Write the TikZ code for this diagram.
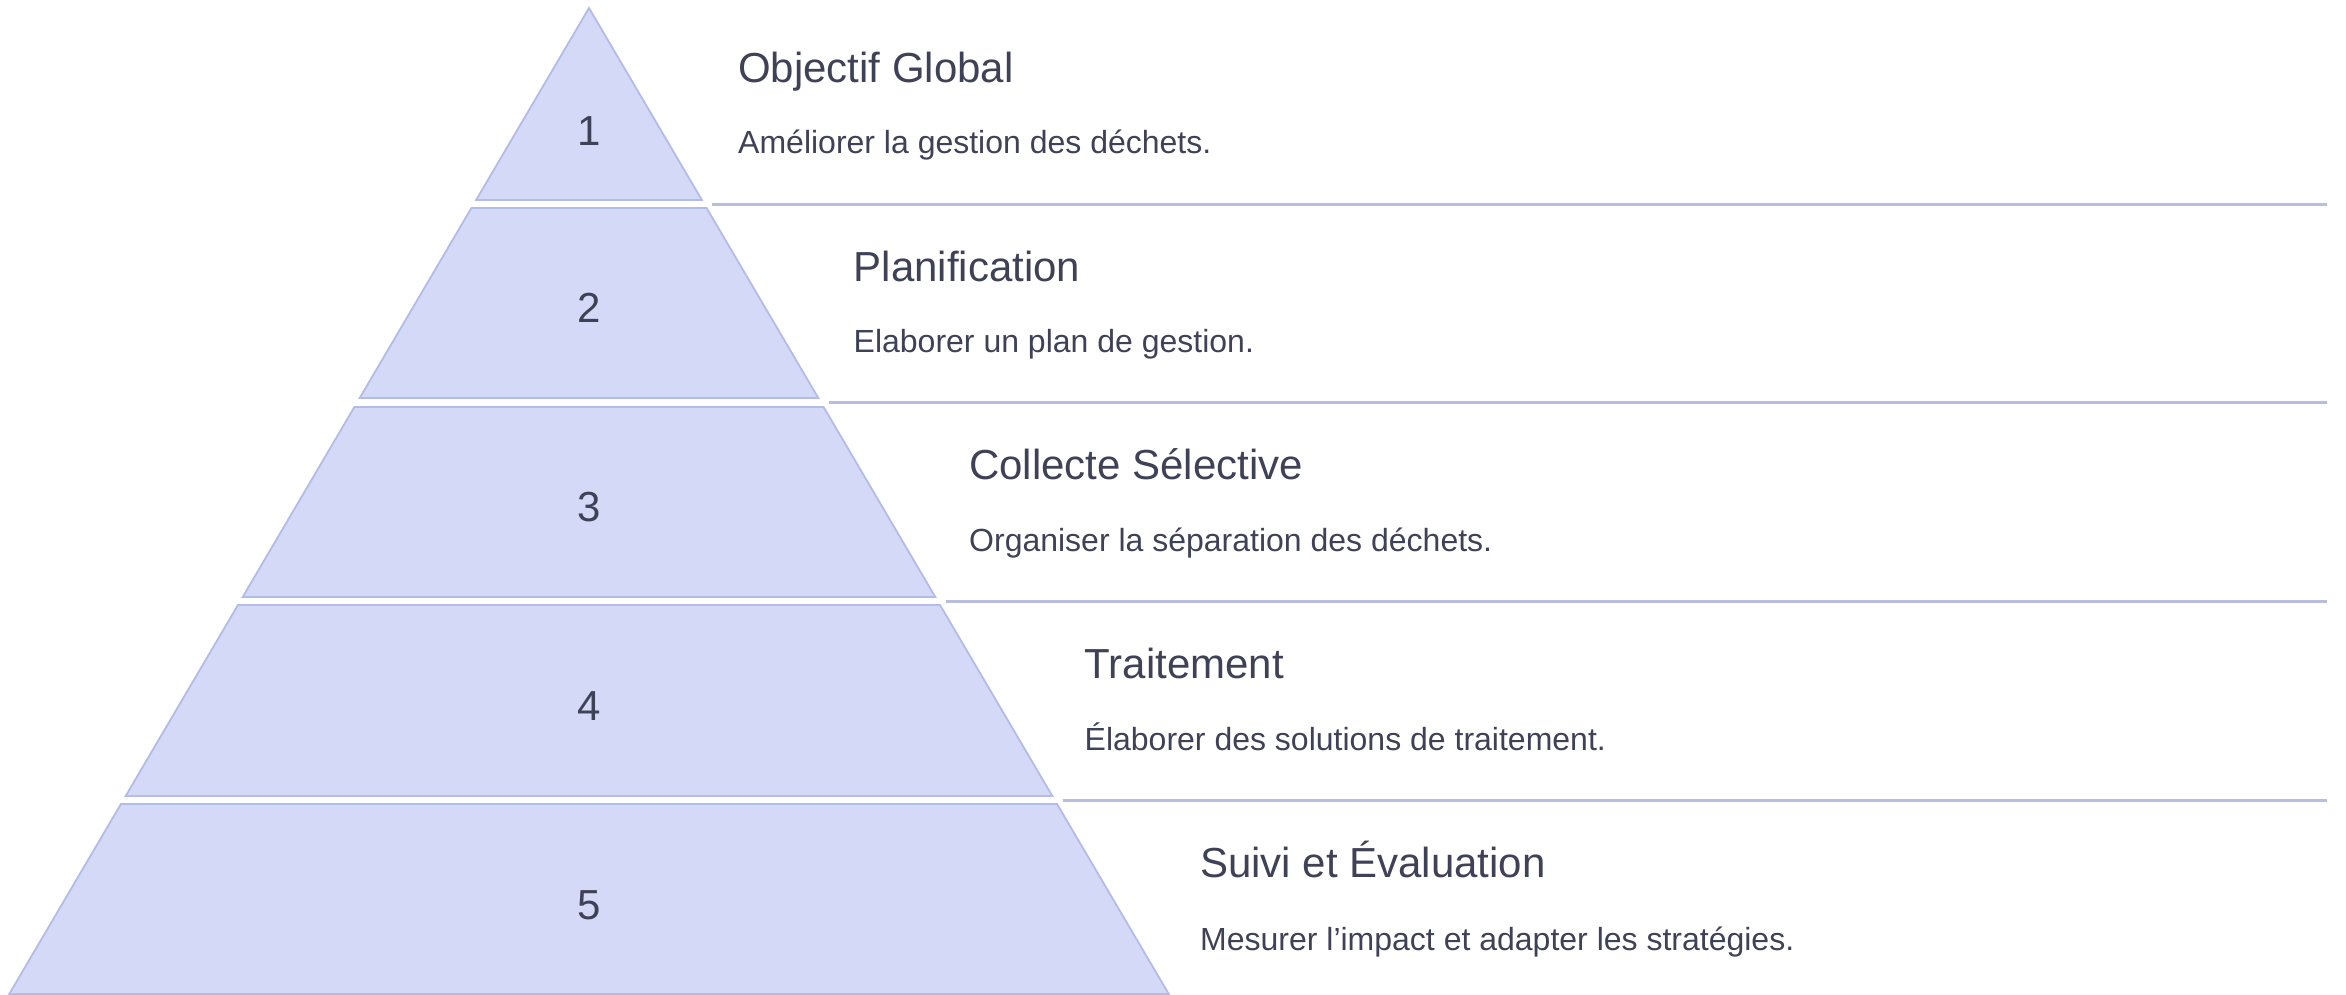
\documentclass[tikz,border=0pt]{standalone}
\usepackage{fontspec}
\setmainfont{Liberation Sans}
\definecolor{tierfill}{HTML}{D3D9F7}
\definecolor{tieredge}{HTML}{B3BCE6}
\definecolor{txt}{HTML}{3F4156}
\definecolor{sepcol}{HTML}{B8BEE0}
\begin{document}
\begin{tikzpicture}[x=1pt,y=-1pt,
  tier/.style={fill=tierfill,draw=tieredge,line width=1.8pt,line join=miter},
  sepline/.style={draw=sepcol,line width=3pt},
  numlabel/.style={text=txt,font=\fontsize{42}{50}\selectfont,anchor=base,inner sep=0pt},
  titlelabel/.style={text=txt,font=\fontsize{42}{50}\selectfont,anchor=base west,inner sep=0pt},
  desclabel/.style={text=txt,font=\fontsize{32}{38}\selectfont,anchor=base west,inner sep=0pt}]
\useasboundingbox (0,0) rectangle (2346,994);
\def\pcx{589}
\def\pslope{0.588}
% tiers
\foreach \i/\t/\b/\nb in {1/8/200/145, 2/208/398/322, 3/407/597/521, 4/605/796/720, 5/804/994/919} {
  \pgfmathsetmacro\tophw{\pslope*(\t-8)}
  \pgfmathsetmacro\bothw{\pslope*(\b-8)}
  \draw[tier] (\pcx-\tophw,\t) -- (\pcx+\tophw,\t) -- (\pcx+\bothw,\b) -- (\pcx-\bothw,\b) -- cycle;
  \node[numlabel] (n\i) at (\pcx,\nb) {\i};
}
% separator lines
\foreach \i/\y in {1/204, 2/402.5, 3/601, 4/800} {
  \pgfmathsetmacro\sepxs{\pcx+\pslope*(\y-8)+8}
  \coordinate (s\i a) at (\sepxs,\y);
  \coordinate (s\i b) at (2327,\y);
  \draw[sepline] (s\i a) -- (s\i b);
}
% texts
\node[titlelabel] (t1) at (738,82) {Objectif Global};
\node[desclabel] (d1) at (738,153) {Améliorer la gestion des déchets.};
\node[titlelabel] (t2) at (853.5,281) {Planification};
\node[desclabel] (d2) at (853.5,352) {Elaborer un plan de gestion.};
\node[titlelabel] (t3) at (969,479) {Collecte Sélective};
\node[desclabel] (d3) at (969,551) {Organiser la séparation des déchets.};
\node[titlelabel] (t4) at (1084.5,678) {Traitement};
\node[desclabel] (d4) at (1084.5,750) {Élaborer des solutions de traitement.};
\node[titlelabel] (t5) at (1200,877) {Suivi et Évaluation};
\node[desclabel] (d5) at (1200,950) {Mesurer l’impact et adapter les stratégies.};
\end{tikzpicture}
\end{document}
